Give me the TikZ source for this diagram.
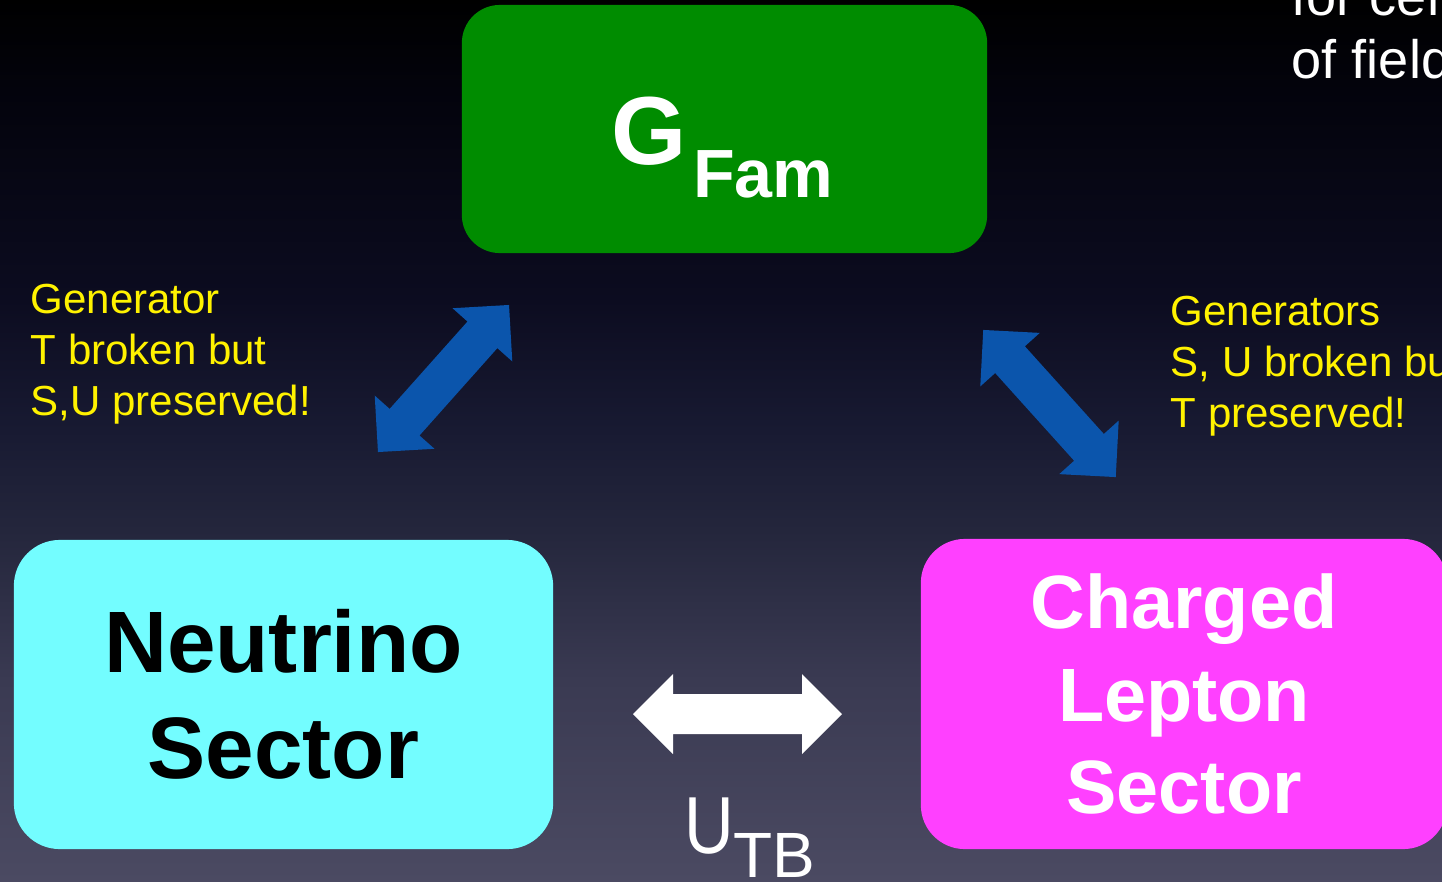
\documentclass[tikz,border=0pt]{standalone}
\usepackage{fontspec}
\setmainfont{Liberation Sans}
\usepackage{xcolor}
\usepackage{tikz}
\usetikzlibrary{positioning}
\definecolor{famgreen}{RGB}{0,140,0}
\definecolor{nucyan}{RGB}{115,253,255}
\definecolor{chmagenta}{RGB}{255,64,255}
\definecolor{genblue}{RGB}{11,85,172}
\definecolor{bgA}{RGB}{75,74,98}
\definecolor{bgB}{RGB}{58,58,82}
\definecolor{bgC}{RGB}{36,38,60}
\definecolor{bgD}{RGB}{24,26,50}
\definecolor{bgE}{RGB}{12,12,32}
\definecolor{bgF}{RGB}{3,3,12}
\pgfdeclareverticalshading{slidebg}{100bp}{color(0bp)=(bgA); color(25bp)=(bgA); color(36.4bp)=(bgB);
  color(44.9bp)=(bgC); color(50.6bp)=(bgD); color(58bp)=(bgE); color(69.9bp)=(bgF);
  color(75bp)=(black); color(100bp)=(black)}
\tikzset{
  fatarrow/.pic={\fill[pic actions] (-#1,0) -- ++(40,40) -- ++(0,-20) -- ({#1-40},20) -- ++(0,20)
    -- (#1,0) -- ++(-40,-40) -- ++(0,20) -- ({40-#1},-20) -- ++(0,-20) -- cycle;}
}

\begin{document}
\begin{tikzpicture}[x=0.01cm, y=-0.01cm,
  sector/.style={inner sep=0pt, align=center},
  yellowtxt/.style={text=yellow, anchor=base west, align=left, inner sep=0pt,
    font=\fontsize{11.95}{14.4}\selectfont}]
\useasboundingbox (0,0) rectangle (1442,881);
\clip (0,0) rectangle (1442,881);
\shade[shading=slidebg] (0,0) rectangle (1442,881);

% ---- the family group on top ----
\node[sector, fill=famgreen, rounded corners=0.38cm, minimum width=5.25cm, minimum height=2.48cm] (fam) at (724.5,129) {};
\node[text=white, inner sep=0pt, anchor=base west] (famtxt) at (611,164)
  {\fontsize{27.5}{32}\selectfont\bfseries G\kern1.8pt\raisebox{-9.6pt}{\fontsize{19.4}{23}\selectfont\bfseries Fam}};

% ---- the two sectors below ----
\node[sector, fill=nucyan, rounded corners=0.46cm, minimum width=5.39cm, minimum height=3.09cm,
  font=\fontsize{24.8}{30.2}\selectfont\bfseries] (nu) at (283.5,694.5) {Neutrino\\Sector};
\node[sector, fill=chmagenta, text=white, rounded corners=0.44cm, minimum width=5.26cm, minimum height=3.10cm,
  font=\fontsize{21.5}{26.3}\selectfont\bfseries] (cl) at (1184,694) {Charged\\Lepton\\Sector};

% ---- block arrows ----
\pic[fill=genblue, rotate=48.3] (lgen) at (443.5,378.5) {fatarrow=98.5};
\pic[fill=genblue, rotate=-48] (rgen) at (1049.5,403.5) {fatarrow=99};
\pic[fill=white] (tbarrow) at (737.5,714) {fatarrow=104.5};
\node[text=white, anchor=base west, inner sep=0pt] (utb) at (683.5,853)
  {\fontsize{23}{28}\selectfont\scalebox{0.85}[1]{U}\raisebox{-7pt}{\fontsize{18.2}{22}\selectfont TB}};

% ---- notes ----
\node[yellowtxt] (tbroken) at (30,415) {Generator\\T broken but\\S,U preserved!};
\node[yellowtxt] (subroken) at (1170,427) {Generators\\S, U broken but\\T preserved!};
\node[text=white, anchor=base west, align=left, inner sep=0pt, font=\fontsize{15.4}{17.9}\selectfont]
  (fieldnote) at (1291,78) {for cer\\of field};
\end{tikzpicture}
\end{document}
